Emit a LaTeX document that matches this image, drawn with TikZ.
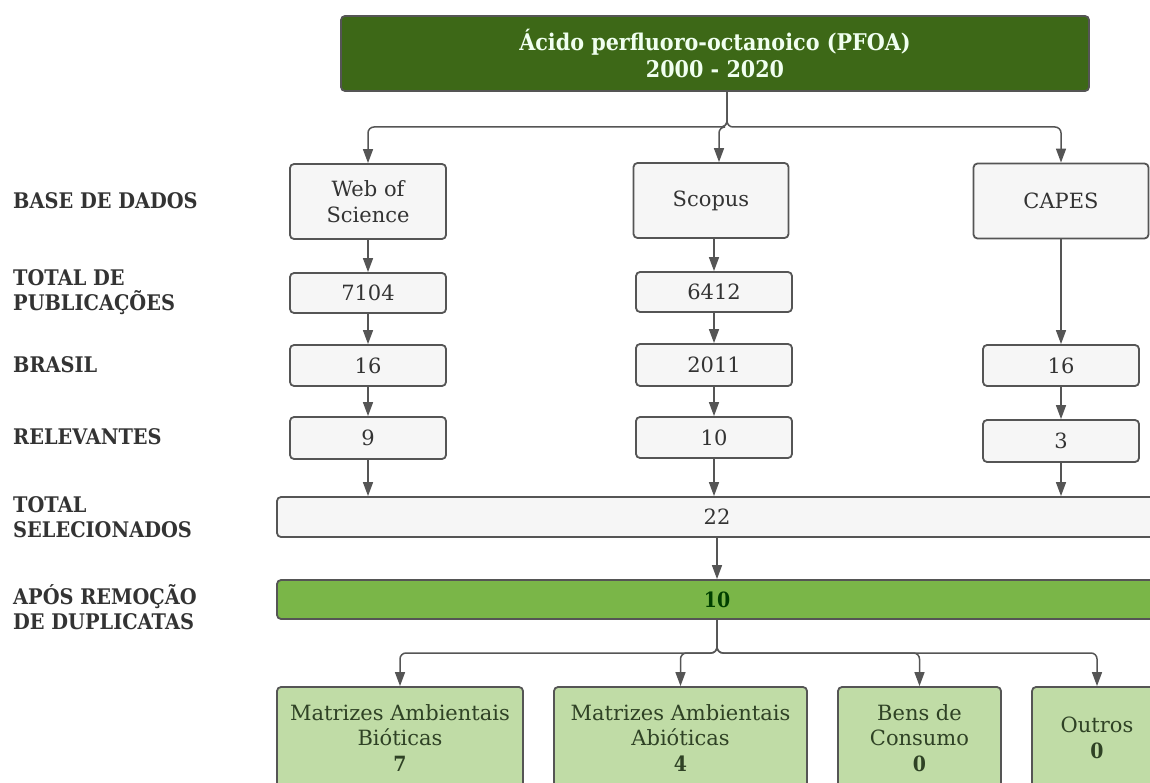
\documentclass[tikz,border=0pt]{standalone}
\usepackage{fontspec}
\setmainfont{DejaVu Serif}[BoldFeatures={FakeStretch=0.9}]
\usepackage{xcolor}
\usepackage{tikz}
\usetikzlibrary{positioning,arrows.meta,calc}

\definecolor{pfoagreen}{HTML}{3D6817}
\definecolor{barfill}{HTML}{7AB648}
\definecolor{leaffill}{HTML}{C0DCA6}
\definecolor{boxline}{HTML}{555555}
\definecolor{boxfill}{HTML}{F6F6F6}
\definecolor{leaftext}{HTML}{2F4225}

\begin{document}
\begin{tikzpicture}[x=1pt, y=-1pt,
  every node/.style={font=\fontsize{21}{25.5}\selectfont, text=black!80},
  sbox/.style={draw=boxline, line width=1.8pt, fill=boxfill, rounded corners=4pt,
               align=center, inner sep=0pt, minimum width=156pt},
  leaf/.style={sbox, fill=leaffill, text=leaftext, minimum height=102pt},
  rowlbl/.style={anchor=west, align=left, text=black!80, inner sep=0pt,
                 font=\fontsize{21.5}{25}\selectfont\bfseries},
  link/.style={-{Triangle[length=14pt, width=10pt]}, draw=boxline,
               line width=1.5pt, rounded corners=6pt}]

  \path[use as bounding box] (0,0) rectangle (1150,783);
  \clip (0,0) rectangle (1150,783);

  % row labels
  \node[rowlbl] (l1) at (13,201) {BASE DE DADOS};
  \node[rowlbl] (l2) at (13,292.5) {TOTAL DE\\PUBLICAÇÕES};
  \node[rowlbl] (l3) at (13,365) {BRASIL};
  \node[rowlbl] (l4) at (13,437) {RELEVANTES};
  \node[rowlbl] (l5) at (13,517) {TOTAL\\SELECIONADOS};
  \node[rowlbl] (l6) at (13,607) {APÓS REMOÇÃO\\DE DUPLICATAS};

  % top
  \node[sbox, fill=pfoagreen, minimum width=748pt, minimum height=75pt,
        text=green!6!white, font=\fontsize{23}{27}\selectfont\bfseries]
    (top) at (715,53.5) {Ácido perfluoro-octanoico (PFOA)\\2000 - 2020};

  % Web of Science
  \node[sbox, minimum height=75pt] (wos)  at (368,201.5) {Web of\\Science};
  \node[sbox, minimum height=40pt] (wos1) at (368,293) {7104};
  \node[sbox, minimum height=41pt] (wos2) at (368,365.5) {16};
  \node[sbox, minimum height=42pt] (wos3) at (368,438) {9};
  \draw[link] (wos) -- (wos1);
  \draw[link] (wos1) -- (wos2);
  \draw[link] (wos2) -- (wos3);

  % Scopus
  \node[sbox, minimum width=155pt, minimum height=75pt] (sco) at (711,200.5) {Scopus};
  \node[sbox, minimum height=40pt] (sco1) at (714,292) {6412};
  \node[sbox, minimum height=42pt] (sco2) at (714,365) {2011};
  \node[sbox, minimum height=41pt] (sco3) at (714,437.5) {10};
  \draw[link] (sco.south -| sco1) -- (sco1);
  \draw[link] (sco1) -- (sco2);
  \draw[link] (sco2) -- (sco3);

  % CAPES
  \node[sbox, minimum width=175pt, minimum height=75pt] (cap) at (1061,201) {CAPES};
  \node[sbox, minimum height=41pt] (cap2) at (1061,365.5) {16};
  \node[sbox, minimum height=42pt] (cap3) at (1061,441) {3};
  \draw[link] (cap) -- (cap2);
  \draw[link] (cap2) -- (cap3);

  \coordinate (split) at (727,127);
  \draw[link] (top.south -| split) -- (split) -| (wos);
  \draw[link] (top.south -| split) -- (split) -| ([xshift=8pt]sco.north);
  \draw[link] (top.south -| split) -- (split) -| (cap);

  % selection
  \node[sbox, minimum width=880pt, minimum height=40pt] (total) at (717,517) {22};
  \node[sbox, fill=barfill, minimum width=880pt, minimum height=39pt,
        text=green!25!black, font=\fontsize{21}{25.5}\selectfont\bfseries]
    (bar) at (717,599.5) {10};
  \draw[link] (wos3) -- (wos3 |- total.north);
  \draw[link] (sco3) -- (sco3 |- total.north);
  \draw[link] (cap3) -- (cap3 |- total.north);
  \draw[link] (total) -- (bar);

  % categories
  \node[leaf, minimum width=246pt] (bio) at (400,738)
    {Matrizes Ambientais\\Bióticas\\\textbf{7}};
  \node[leaf, minimum width=253pt] (abio) at (680.5,738)
    {Matrizes Ambientais\\Abióticas\\\textbf{4}};
  \node[leaf, minimum width=163pt] (bens) at (919.5,738)
    {Bens de\\Consumo\\\textbf{0}};
  \node[leaf, minimum width=130pt] (outros) at (1097,738)
    {Outros\\\textbf{0}};

  \coordinate (fork) at (717,653);
  \draw[link] (bar) -- (fork) -| (bio);
  \draw[link] (bar) -- (fork) -| (abio);
  \draw[link] (bar) -- (fork) -| (bens);
  \draw[link] (bar) -- (fork) -| (outros);
\end{tikzpicture}
\end{document}
